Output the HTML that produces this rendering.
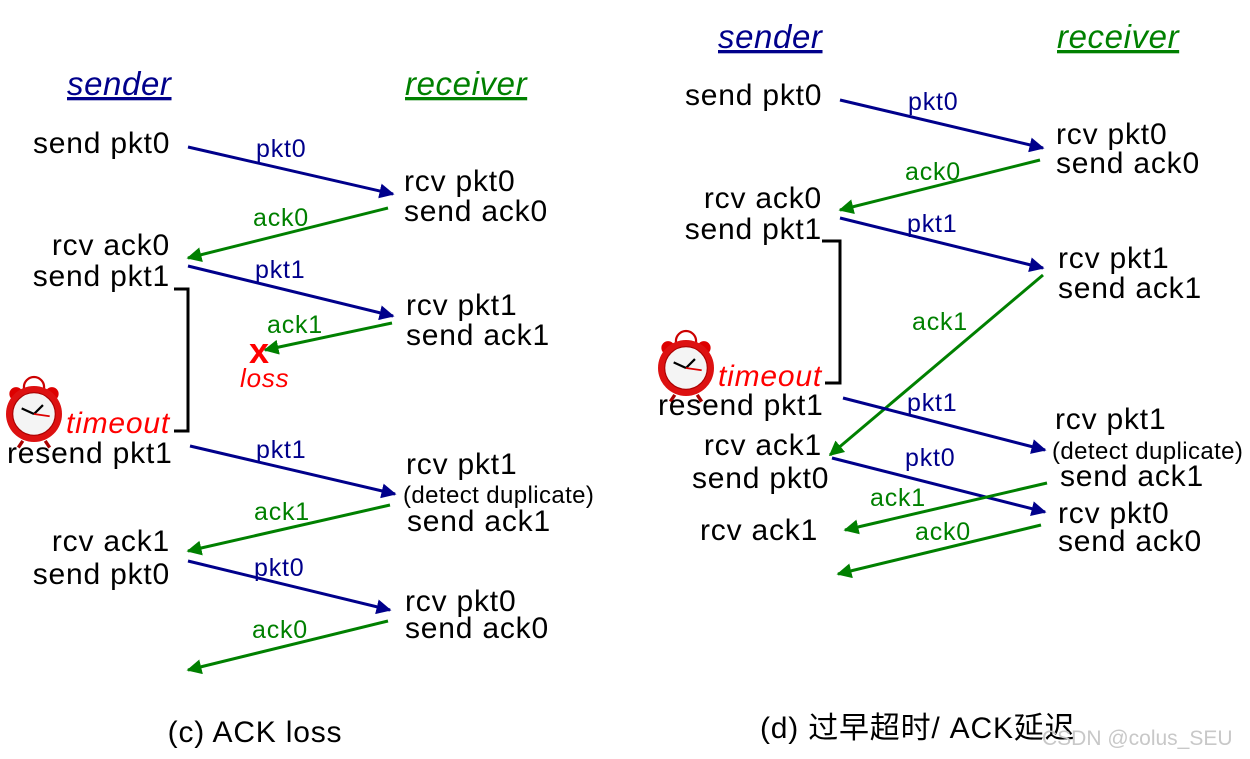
<!DOCTYPE html>
<html><head><meta charset="utf-8"><style>
html,body{margin:0;padding:0;background:#fff;}
svg{display:block;}
text{font-family:"Liberation Sans","Noto Sans CJK SC",sans-serif;}
.b{font-size:30px;fill:#000;letter-spacing:0.8px;}
.s{font-size:24px;fill:#000;letter-spacing:0.4px;}
.lb{font-size:25px;fill:#00008b;letter-spacing:0.8px;}
.lg{font-size:25px;fill:#008000;letter-spacing:0.8px;}
.h{font-size:33px;font-style:italic;text-decoration:underline;letter-spacing:0.6px;}
.r{fill:#f00;font-style:italic;font-size:30px;letter-spacing:0.8px;}
</style></head><body>
<svg width="1250" height="759" viewBox="0 0 1250 759" xmlns="http://www.w3.org/2000/svg">
<defs>
<marker id="mb" markerWidth="5" markerHeight="5" refX="4.5" refY="2.5" orient="auto" markerUnits="strokeWidth"><path d="M0,0 L5,2.5 L0,5 z" fill="#00008b"/></marker>
<marker id="mg" markerWidth="5" markerHeight="5" refX="4.5" refY="2.5" orient="auto" markerUnits="strokeWidth"><path d="M0,0 L5,2.5 L0,5 z" fill="#008000"/></marker>
<g id="clock">
<circle cx="0" cy="-24" r="9" fill="none" stroke="#c00" stroke-width="2"/>
<circle cx="-16" cy="-18" r="6" fill="#d00"/><circle cx="16" cy="-18" r="6" fill="#d00"/>
<circle cx="0" cy="0" r="25" fill="#d11"/>
<circle cx="0" cy="0" r="19" fill="#f4f4f4" stroke="#a00" stroke-width="1"/>
<line x1="0" y1="0" x2="-11" y2="-5" stroke="#000" stroke-width="2"/>
<line x1="0" y1="0" x2="8" y2="-8" stroke="#000" stroke-width="2"/>
<line x1="0" y1="0" x2="14" y2="2" stroke="#d00" stroke-width="1.5"/>
<line x1="-10" y1="24" x2="-14" y2="30" stroke="#a00" stroke-width="3"/>
<line x1="10" y1="24" x2="14" y2="30" stroke="#a00" stroke-width="3"/>
</g>
</defs>
<g stroke-width="3" fill="none">
<line x1="188" y1="147" x2="393" y2="194" stroke="#00008b" marker-end="url(#mb)"/>
<line x1="388" y1="208" x2="188" y2="258" stroke="#008000" marker-end="url(#mg)"/>
<line x1="188" y1="266" x2="393" y2="316" stroke="#00008b" marker-end="url(#mb)"/>
<line x1="392" y1="323" x2="265" y2="350" stroke="#008000" marker-end="url(#mg)"/>
<line x1="190" y1="446" x2="395" y2="494" stroke="#00008b" marker-end="url(#mb)"/>
<line x1="390" y1="505" x2="188" y2="551" stroke="#008000" marker-end="url(#mg)"/>
<line x1="188" y1="561" x2="390" y2="610" stroke="#00008b" marker-end="url(#mb)"/>
<line x1="388" y1="621" x2="188" y2="670" stroke="#008000" marker-end="url(#mg)"/>
<polyline points="174,289 188,289 188,431 174,431" stroke="#000"/>
<line x1="840" y1="100" x2="1043" y2="148" stroke="#00008b" marker-end="url(#mb)"/>
<line x1="1040" y1="160" x2="840" y2="210" stroke="#008000" marker-end="url(#mg)"/>
<line x1="840" y1="218" x2="1043" y2="268" stroke="#00008b" marker-end="url(#mb)"/>
<line x1="1043" y1="275" x2="830" y2="455" stroke="#008000" marker-end="url(#mg)"/>
<line x1="843" y1="398" x2="1045" y2="450" stroke="#00008b" marker-end="url(#mb)"/>
<line x1="832" y1="458" x2="1045" y2="512" stroke="#00008b" marker-end="url(#mb)"/>
<line x1="1047" y1="483" x2="845" y2="530" stroke="#008000" marker-end="url(#mg)"/>
<line x1="1041" y1="525" x2="838" y2="574" stroke="#008000" marker-end="url(#mg)"/>
<polyline points="822,241 840,241 840,383 825,383" stroke="#000"/>
</g>
<use href="#clock" transform="translate(34,414) scale(1.12)"/>
<use href="#clock" transform="translate(686,368) scale(1.12)"/>
<text x="67" y="95" class="h" style="fill:#00008b">sender</text>
<text x="405" y="95" class="h" style="fill:#008000">receiver</text>
<text x="33" y="153" class="b">send pkt0</text>
<text x="256" y="157" class="lb">pkt0</text>
<text x="404" y="191" class="b">rcv pkt0</text>
<text x="404" y="221" class="b">send ack0</text>
<text x="253" y="226" class="lg">ack0</text>
<text x="170" y="255" class="b" text-anchor="end">rcv ack0</text>
<text x="170" y="286" class="b" text-anchor="end">send pkt1</text>
<text x="255" y="278" class="lb">pkt1</text>
<text x="406" y="315" class="b">rcv pkt1</text>
<text x="406" y="345" class="b">send ack1</text>
<text x="267" y="333" class="lg">ack1</text>
<text x="249" y="363" style="font-size:36px;font-weight:bold;fill:#f00">x</text>
<text x="240" y="387" class="r" style="font-size:26px">loss</text>
<text x="66" y="433" class="r">timeout</text>
<text x="7" y="463" class="b">resend pkt1</text>
<text x="256" y="458" class="lb">pkt1</text>
<text x="406" y="474" class="b">rcv pkt1</text>
<text x="403" y="503" class="s">(detect duplicate)</text>
<text x="407" y="531" class="b">send ack1</text>
<text x="254" y="520" class="lg">ack1</text>
<text x="170" y="551" class="b" text-anchor="end">rcv ack1</text>
<text x="170" y="584" class="b" text-anchor="end">send pkt0</text>
<text x="254" y="576" class="lb">pkt0</text>
<text x="405" y="611" class="b">rcv pkt0</text>
<text x="405" y="638" class="b">send ack0</text>
<text x="252" y="638" class="lg">ack0</text>
<text x="255" y="742" class="b" text-anchor="middle">(c) ACK loss</text>
<text x="718" y="48" class="h" style="fill:#00008b">sender</text>
<text x="1057" y="48" class="h" style="fill:#008000">receiver</text>
<text x="685" y="105" class="b">send pkt0</text>
<text x="908" y="110" class="lb">pkt0</text>
<text x="1056" y="144" class="b">rcv pkt0</text>
<text x="1056" y="173" class="b">send ack0</text>
<text x="905" y="180" class="lg">ack0</text>
<text x="822" y="208" class="b" text-anchor="end">rcv ack0</text>
<text x="822" y="239" class="b" text-anchor="end">send pkt1</text>
<text x="907" y="232" class="lb">pkt1</text>
<text x="1058" y="268" class="b">rcv pkt1</text>
<text x="1058" y="298" class="b">send ack1</text>
<text x="912" y="330" class="lg">ack1</text>
<text x="718" y="386" class="r">timeout</text>
<text x="658" y="415" class="b">resend pkt1</text>
<text x="907" y="411" class="lb">pkt1</text>
<text x="1055" y="429" class="b">rcv pkt1</text>
<text x="1052" y="459" class="s">(detect duplicate)</text>
<text x="1060" y="486" class="b">send ack1</text>
<text x="822" y="455" class="b" text-anchor="end">rcv ack1</text>
<text x="692" y="488" class="b">send pkt0</text>
<text x="905" y="466" class="lb">pkt0</text>
<text x="870" y="506" class="lg">ack1</text>
<text x="700" y="540" class="b">rcv ack1</text>
<text x="1058" y="523" class="b">rcv pkt0</text>
<text x="1058" y="551" class="b">send ack0</text>
<text x="915" y="540" class="lg">ack0</text>
<text x="760" y="738" class="b">(d) 过早超时/ ACK延迟</text>
<text x="1042" y="745" style="font-size:21px;fill:#c8c8c8">CSDN @colus_SEU</text>
</svg>
</body></html>
